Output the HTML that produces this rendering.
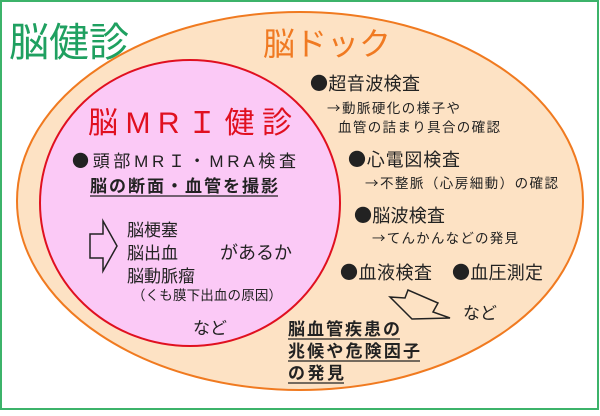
<!DOCTYPE html>
<html><head><meta charset="utf-8"><style>
body{margin:0;background:#fff}
svg text{font-family:"Liberation Sans","Noto Sans CJK JP",sans-serif}
svg tspan.j{font-family:"Noto Sans CJK JP",sans-serif}
</style></head><body>
<svg width="600" height="411" viewBox="0 0 600 411" xmlns="http://www.w3.org/2000/svg">
<rect x="1" y="1" width="597" height="408" fill="#fff" stroke="#3cb36a" stroke-width="2"/>
<text x="9" y="56" font-size="40" fill="#1fa060">脳健診</text>
<ellipse cx="300" cy="201" rx="283" ry="189" fill="#fde2c4" stroke="#f07a20" stroke-width="2"/>
<text x="263" y="55" font-size="32" fill="#f07a22">脳ドック</text>
<ellipse cx="190" cy="203" rx="150" ry="143" fill="#fbc9f6" stroke="#e01020" stroke-width="2"/>
<text x="88" y="133" font-size="30" fill="#e01020" textLength="204">脳MRＩ健診</text>
<g fill="#222">
<text x="72" y="167" font-size="17" textLength="224"><tspan class="j">●</tspan>頭部MRＩ・MRA検査</text>
<text x="90" y="192" font-size="17" font-weight="bold" textLength="188">脳の断面・血管を撮影</text>
<line x1="90" y1="196" x2="278" y2="196" stroke="#222" stroke-width="1.2"/>
<text x="127" y="236" font-size="17">脳梗塞</text>
<text x="127" y="259" font-size="17">脳出血</text>
<text x="127" y="282" font-size="17">脳動脈瘤</text>
<text x="220" y="259" font-size="18">があるか</text>
<text x="132" y="300" font-size="13.5" textLength="150">（くも膜下出血の原因）</text>
<text x="193" y="334" font-size="17">など</text>
<text x="310" y="90" font-size="18" textLength="110"><tspan class="j">●</tspan>超音波検査</text>
<text x="327" y="113" font-size="13.5" textLength="133"><tspan class="j">→</tspan>動脈硬化の様子や</text>
<text x="338" y="132" font-size="13.5" textLength="162">血管の詰まり具合の確認</text>
<text x="348" y="166" font-size="18" textLength="112"><tspan class="j">●</tspan>心電図検査</text>
<text x="365" y="188" font-size="13.5" textLength="193"><tspan class="j">→</tspan>不整脈（心房細動）の確認</text>
<text x="354" y="222" font-size="18" textLength="91"><tspan class="j">●</tspan>脳波検査</text>
<text x="372" y="243" font-size="13.5" textLength="146"><tspan class="j">→</tspan>てんかんなどの発見</text>
<text x="340" y="279" font-size="18" textLength="92"><tspan class="j">●</tspan>血液検査</text>
<text x="452" y="279" font-size="18" textLength="91"><tspan class="j">●</tspan>血圧測定</text>
<text x="463" y="319" font-size="17">など</text>
<text x="288" y="335" font-size="17" font-weight="bold" textLength="112">脳血管疾患の</text>
<text x="288" y="357" font-size="17" font-weight="bold" textLength="132">兆候や危険因子</text>
<text x="288" y="379" font-size="17" font-weight="bold" textLength="56">の発見</text>
</g>
<g stroke="#222" stroke-width="1.2">
<line x1="288" y1="339" x2="400" y2="339"/>
<line x1="288" y1="361" x2="420" y2="361"/>
<line x1="288" y1="383" x2="344" y2="383"/>
</g>
<path d="M90,234 L103,234 L103,221 L117,246 L103,271 L103,258 L90,258 Z" fill="none" stroke="#222" stroke-width="1.5"/>
<path d="M390,297 L405,298 L408,290 L438,303 L433,312 L450,318 L412,319 Z" fill="none" stroke="#222" stroke-width="1.5"/>
</svg>
</body></html>
